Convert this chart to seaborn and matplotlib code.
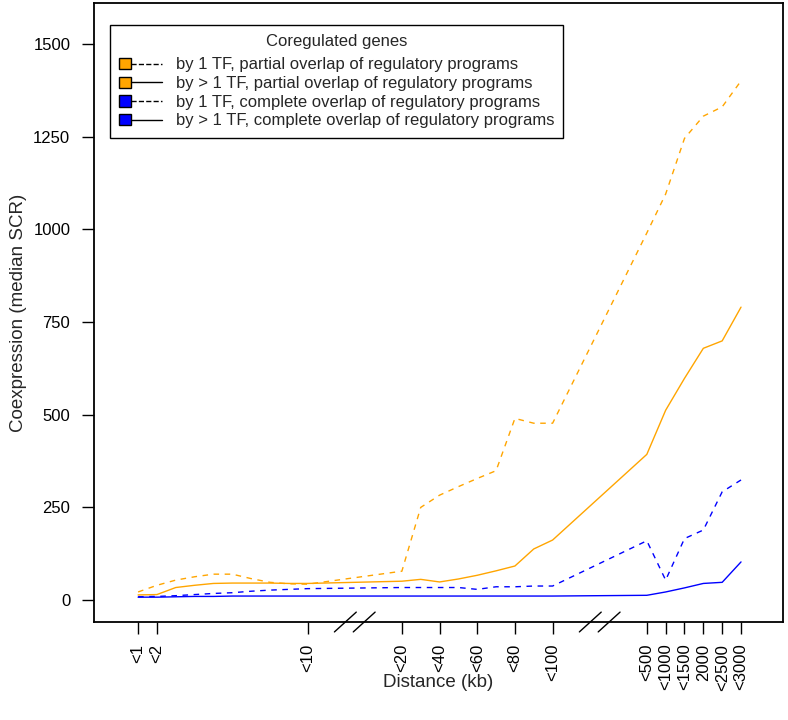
import numpy as np
import pandas as pd
import seaborn as sns
import matplotlib
matplotlib.use("Agg")
import matplotlib.pyplot as plt
from matplotlib.lines import Line2D
from matplotlib.patches import Rectangle
from matplotlib.legend_handler import HandlerBase

# distance bins (kb) and median SCR for each group of coregulated genes
distance_kb = [1, 2, 3, 4, 5, 6, 7, 8, 9, 10,
               20, 30, 40, 50, 60, 70, 80, 90, 100,
               500, 1000, 1500, 2000, 2500, 3000]

one_tf_partial = [22, 40, 54, 63, 70, 70, 58, 48, 44, 43,
                  78, 250, 283, 306, 328, 349, 490, 477, 477,
                  990, 1095, 1245, 1305, 1330, 1400]
multi_tf_partial = [14, 15, 34, 40, 45, 46, 46, 46, 45, 45,
                    51, 56, 49, 57, 67, 79, 92, 138, 162,
                    393, 512, 598, 679, 699, 790]
one_tf_complete = [9, 10, 12, 15, 18, 20, 24, 27, 29, 31,
                   34, 34, 34, 34, 29, 36, 36, 38, 38,
                   160, 54, 166, 189, 292, 324]
multi_tf_complete = [8, 8, 9, 10, 10, 11, 11, 11, 11, 11,
                     11, 11, 11, 11, 11, 11, 11, 11, 11,
                     13, 22, 33, 45, 48, 103]

tick_kb = [1, 2, 10, 20, 40, 60, 80, 100, 500, 1000, 1500, 2000, 2500, 3000]
tick_labels = ["<1", "<2", "<10", "<20", "<40", "<60", "<80", "<100",
               "<500", "<1000", "<1500", "2000", "<2500", "<3000"]

series_names = ["by 1 TF, partial overlap of regulatory programs",
                "by > 1 TF, partial overlap of regulatory programs",
                "by 1 TF, complete overlap of regulatory programs",
                "by > 1 TF, complete overlap of regulatory programs"]
series_colors = ["#FFA500", "#FFA500", "#0000FF", "#0000FF"]
series_dashed = [True, False, True, False]


def axis_pos(kb):
    # broken x axis: three linear pieces with gaps between them
    kb = np.asarray(kb, dtype=float)
    return np.where(kb <= 10, kb,
                    np.where(kb <= 100, 15 + (kb - 20) / 10,
                             28 + (kb - 500) / 500))


df = pd.DataFrame({
    "pos": np.tile(axis_pos(distance_kb), 4),
    "scr": one_tf_partial + multi_tf_partial + one_tf_complete + multi_tf_complete,
    "group": np.repeat(series_names, len(distance_kb)),
})

sns.set_style("ticks")
plt.rcParams["font.family"] = ["Liberation Sans", "DejaVu Sans"]

fig = plt.figure(figsize=(7.88, 7.2), dpi=100)
ax = fig.add_axes([0.1193, 0.1361, 0.8744, 0.8597])

sns.lineplot(data=df, x="pos", y="scr", hue="group", style="group",
             palette=dict(zip(series_names, series_colors)),
             dashes={n: ((4, 4) if d else "") for n, d in zip(series_names, series_dashed)},
             linewidth=1.0, legend=False, ax=ax)

ax.set_xlim(-1.34, 35.23)
ax.set_ylim(-59, 1610)
ax.set_xticks(axis_pos(tick_kb))
ax.set_xticklabels(tick_labels, rotation=90, fontsize=12)
ax.set_yticks([0, 250, 500, 750, 1000, 1250, 1500])
ax.set_yticklabels(["0", "250", "500", "750", "1000", "1250", "1500"], fontsize=12)
ax.tick_params(length=8.6, width=1, color="black", pad=8.5, labelcolor="black")
ax.tick_params(axis="x", pad=7)
for s in ax.spines.values():
    s.set_visible(True)
    s.set_color("black")
    s.set_linewidth(1.3)

ax.set_xlabel("Distance (kb)", fontsize=13.5)
ax.set_ylabel("Coexpression (median SCR)", fontsize=13.5)
ax.xaxis.set_label_coords(0.5, -0.084)
ax.yaxis.set_label_coords(-0.097, 0.5)

# axis break marks
for b in [12, 13, 25, 26]:
    ax.plot([b - 0.58, b + 0.58], [-0.016, 0.016], color="black", lw=1,
            transform=ax.get_xaxis_transform(), clip_on=False)


class BoxLineHandler(HandlerBase):
    def __init__(self, fill):
        super().__init__()
        self.fill = fill

    def create_artists(self, legend, orig_handle, xdescent, ydescent,
                       width, height, fontsize, trans):
        y = height / 2 - ydescent
        s = 8.3
        line = Line2D([-xdescent + s, width - xdescent], [y, y], color="black",
                      lw=1, linestyle=orig_handle.get_linestyle(), transform=trans)
        rect = Rectangle((-xdescent, y - s / 2), s, s, facecolor=self.fill,
                         edgecolor="black", lw=1, transform=trans)
        return [line, rect]


handles = [Line2D([], [], color="black", lw=1, linestyle=(0, (3, 3)) if d else "-")
           for d in series_dashed]
hmap = {h: BoxLineHandler(c) for h, c in zip(handles, series_colors)}
leg = ax.legend(handles, series_names, handler_map=hmap, title="Coregulated genes",
                loc="upper left", bbox_to_anchor=(0.0232, 0.9645), borderaxespad=0,
                fontsize=12, title_fontsize=12, handlelength=2.6, handletextpad=0.8,
                labelspacing=0.22, borderpad=0.55, fancybox=False, edgecolor="black",
                framealpha=1)
leg.get_frame().set_linewidth(1)
leg._legend_box.sep = 6  # a bit more room under the title

fig.savefig("out.png", dpi=100)
